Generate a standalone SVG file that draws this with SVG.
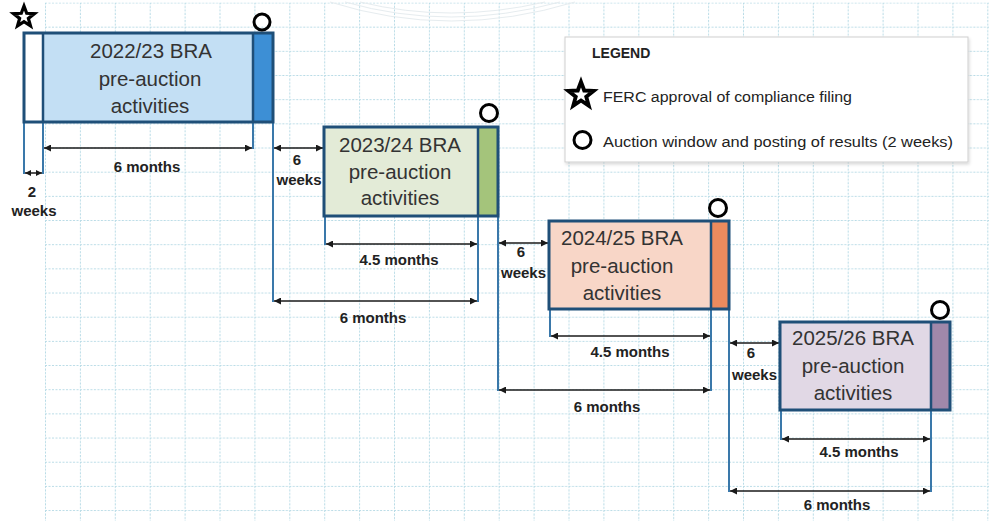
<svg xmlns="http://www.w3.org/2000/svg" xmlns:xlink="http://www.w3.org/1999/xlink" width="995" height="521" viewBox="0 0 995 521">
<style>
.bt{font-family:"Liberation Sans",Arial,sans-serif;font-size:20.5px;fill:#333;text-anchor:middle}
.lb{font-family:"Liberation Sans",Arial,sans-serif;font-size:15px;font-weight:bold;fill:#222;text-anchor:middle}
.lg{font-family:"Liberation Sans",Arial,sans-serif;font-size:15.5px;fill:#222}
.out{fill:none;stroke:#1f4f78;stroke-width:3}
.div{stroke:#1f4f78;stroke-width:2.5}
.vl{stroke:#3a78aa;stroke-width:2;fill:none}
.ar{stroke:#1a1a1a;stroke-width:1.5;fill:none;marker-start:url(#ah);marker-end:url(#ah)}
.ars{stroke:#1a1a1a;stroke-width:1.5;fill:none;marker-start:url(#ahs);marker-end:url(#ahs)}
.circ{fill:none;stroke:#000;stroke-width:3}
.star{fill:#fff;stroke:#000;stroke-width:3.2;stroke-linejoin:miter}
</style>
<defs>
<pattern id="grid" patternUnits="userSpaceOnUse" x="45" y="2.5" width="34.9" height="24.17">
<line x1="0.5" y1="0" x2="0.5" y2="24.17" stroke="#b8dbe6" stroke-width="1" stroke-dasharray="2 1.5"/>
<line x1="0" y1="0.5" x2="34.9" y2="0.5" stroke="#b8dbe6" stroke-width="1" stroke-dasharray="2 1.5"/>
</pattern>
<marker id="ah" viewBox="0 0 10 10" refX="10" refY="5" markerWidth="9" markerHeight="7" markerUnits="userSpaceOnUse" orient="auto-start-reverse">
<path d="M0,0 L10,5 L0,10 z" fill="#1a1a1a"/>
</marker>
<marker id="ahs" viewBox="0 0 10 10" refX="10" refY="5" markerWidth="6" markerHeight="6" markerUnits="userSpaceOnUse" orient="auto-start-reverse">
<path d="M0,0 L10,5 L0,10 z" fill="#1a1a1a"/>
</marker>
<polygon id="star" points="0,-11 2.7,-3.72 10.46,-3.4 4.38,1.42 6.47,8.9 0,4.6 -6.47,8.9 -4.38,1.42 -10.46,-3.4 -2.7,-3.72"/>
<filter id="sh" x="-5%" y="-5%" width="110%" height="120%">
<feDropShadow dx="1" dy="2" stdDeviation="1.5" flood-color="#000" flood-opacity="0.15"/>
</filter>
</defs>

<rect width="995" height="521" fill="#fff"/>
<g id="background-grid">
<rect x="45" y="2.5" width="944" height="518.5" fill="url(#grid)"/>
<g fill="none" stroke="#e6ecef" stroke-width="1">
<path d="M330,2 Q450,40 575,2"/>
<path d="M345,2 Q450,32 560,2"/>
<path d="M360,2 Q450,24 545,2"/>
</g>
</g>

<g id="legend">
<rect x="565" y="37" width="403" height="125" fill="#fff" stroke="#cfcfcf" stroke-width="1" filter="url(#sh)"/>
<text x="592" y="58" class="lg" style="font-weight:bold;font-size:14px">LEGEND</text>
<use xlink:href="#star" class="star" transform="translate(581,95) scale(1.2)"/>
<text x="603" y="102" class="lg" textLength="249" lengthAdjust="spacingAndGlyphs">FERC approval of compliance filing</text>
<circle cx="582.5" cy="140" r="8.5" class="circ"/>
<text x="603" y="147" class="lg" textLength="350" lengthAdjust="spacingAndGlyphs">Auction window and posting of results (2 weeks)</text>
</g>

<g id="connectors">
<g id="guide-lines">
<line x1="24" y1="122" x2="24" y2="174" class="vl"/>
<line x1="43" y1="122" x2="43" y2="174" class="vl"/>
<line x1="253" y1="122" x2="253" y2="149" class="vl"/>
<line x1="273" y1="122" x2="273" y2="302" class="vl"/>
<line x1="325" y1="216" x2="325" y2="245" class="vl"/>
<line x1="478" y1="216" x2="478" y2="302" class="vl"/>
<line x1="498" y1="216" x2="498" y2="391" class="vl"/>
<line x1="550" y1="309" x2="550" y2="337" class="vl"/>
<line x1="711" y1="309" x2="711" y2="391" class="vl"/>
<line x1="729" y1="309" x2="729" y2="492" class="vl"/>
<line x1="781" y1="410" x2="781" y2="440" class="vl"/>
<line x1="931" y1="410" x2="931" y2="492" class="vl"/>
</g>
<g id="dimension-arrows">
<line x1="25" y1="173" x2="42" y2="173" class="ars"/>
<line x1="44" y1="148" x2="252" y2="148" class="ar"/>
<line x1="274" y1="148" x2="323" y2="148" class="ar"/>
<line x1="326" y1="244" x2="477" y2="244" class="ar"/>
<line x1="274" y1="301" x2="477" y2="301" class="ar"/>
<line x1="499" y1="243" x2="548" y2="243" class="ar"/>
<line x1="551" y1="336" x2="710" y2="336" class="ar"/>
<line x1="499" y1="390" x2="710" y2="390" class="ar"/>
<line x1="730" y1="343" x2="779" y2="343" class="ar"/>
<line x1="782" y1="439" x2="930" y2="439" class="ar"/>
<line x1="730" y1="491" x2="930" y2="491" class="ar"/>
</g>
<g id="dimension-labels">
<text x="32" y="197" class="lb">2</text>
<text x="34" y="216" class="lb">weeks</text>
<text x="147" y="172" class="lb">6 months</text>
<text x="297" y="165" class="lb">6</text>
<text x="299" y="185" class="lb">weeks</text>
<text x="399" y="265" class="lb">4.5 months</text>
<text x="373" y="323" class="lb">6 months</text>
<text x="521" y="257" class="lb">6</text>
<text x="523.5" y="278" class="lb">weeks</text>
<text x="630" y="357" class="lb">4.5 months</text>
<text x="607" y="412" class="lb">6 months</text>
<text x="751" y="358" class="lb">6</text>
<text x="754.5" y="380" class="lb">weeks</text>
<text x="859" y="457" class="lb">4.5 months</text>
<text x="837" y="510" class="lb">6 months</text>
</g>
</g>

<g id="node-2022-23">
<rect x="24" y="33" width="19" height="89" fill="#fff"/>
<rect x="43" y="33" width="210" height="89" fill="#c3dff4"/>
<rect x="253" y="33" width="20" height="89" fill="#3d8fd5"/>
<line x1="43" y1="33" x2="43" y2="122" class="div"/>
<line x1="253" y1="33" x2="253" y2="122" class="div"/>
<rect x="24" y="33" width="249" height="89" class="out"/>
<text x="151" y="58" class="bt">2022/23 BRA</text>
<text x="150" y="85.5" class="bt">pre-auction</text>
<text x="150" y="113" class="bt">activities</text>
<use xlink:href="#star" class="star" transform="translate(24,17)"/>
<circle cx="262" cy="22" r="8" class="circ"/>
</g>

<g id="node-2023-24">
<rect x="324" y="127" width="154" height="89" fill="#e3ebd7"/>
<rect x="478" y="127" width="20" height="89" fill="#a4c47b"/>
<line x1="478" y1="127" x2="478" y2="216" class="div"/>
<rect x="324" y="127" width="174" height="89" class="out"/>
<text x="400" y="152" class="bt">2023/24 BRA</text>
<text x="400" y="178.5" class="bt">pre-auction</text>
<text x="400" y="205" class="bt">activities</text>
<circle cx="489" cy="113" r="8.5" class="circ"/>
</g>

<g id="node-2024-25">
<rect x="549" y="221" width="162" height="88" fill="#f8d6c7"/>
<rect x="711" y="221" width="18" height="88" fill="#ec8b5e"/>
<line x1="711" y1="221" x2="711" y2="309" class="div"/>
<rect x="549" y="221" width="180" height="88" class="out"/>
<text x="622" y="245" class="bt">2024/25 BRA</text>
<text x="622" y="272.5" class="bt">pre-auction</text>
<text x="622" y="300" class="bt">activities</text>
<circle cx="718" cy="208" r="8.5" class="circ"/>
</g>

<g id="node-2025-26">
<rect x="780" y="322" width="151" height="88" fill="#e1d8e5"/>
<rect x="931" y="322" width="19" height="88" fill="#a088aa"/>
<line x1="931" y1="322" x2="931" y2="410" class="div"/>
<rect x="780" y="322" width="170" height="88" class="out"/>
<text x="853" y="345" class="bt">2025/26 BRA</text>
<text x="853" y="372.5" class="bt">pre-auction</text>
<text x="853" y="400" class="bt">activities</text>
<circle cx="940" cy="310" r="8.5" class="circ"/>
</g>
</svg>
